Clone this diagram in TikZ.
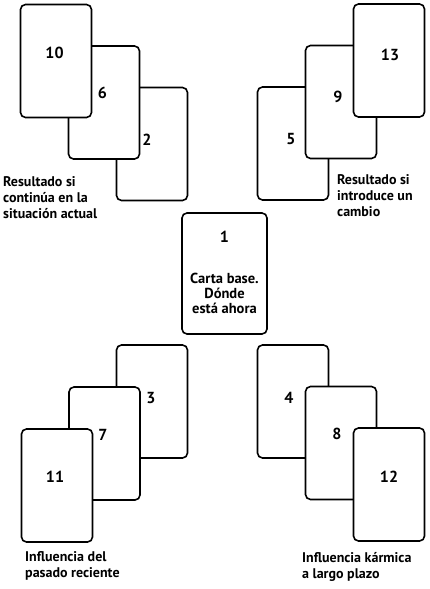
\documentclass[tikz,border=0pt]{standalone}
\usepackage{fontspec}
\setmainfont{PT Sans}
\usetikzlibrary{positioning}

\tikzset{
  card/.style={draw, line width=1.6pt, rounded corners=5pt, fill=white,
    minimum width=71pt, minimum height=113pt, inner sep=0pt},
  num/.style={font=\fontsize{16}{16}\selectfont\bfseries, inner sep=0pt},
  caption/.style={font=\fontsize{14}{16}\selectfont\bfseries, align=left,
    anchor=north west, inner sep=0pt},
}

\begin{document}
\begin{tikzpicture}[x=1pt, y=-1pt, on grid]
    \useasboundingbox (0,0) rectangle (429,589);

    % top left: if nothing changes
    \node[card] (c2) at (152,144) {};
    \node[card, above left=41.5pt and 48pt of c2] (c6) {};
    \node[card, above left=41.5pt and 48pt of c6] (c10) {};
    \node[num, above left=8pt and 1.5pt of c10] (n10) {10};
    \node[num, above left=10pt and 1.5pt of c6] (n6) {6};
    \node[num, above left=4pt and 5pt of c2] (n2) {2};
    \node[caption] (t1) at (3,176) {Resultado si\\continúa en la\\situación actual};

    % top right: if a change is made
    \node[card] (c5) at (293,143.5) {};
    \node[card, above right=41.5pt and 48pt of c5] (c9) {};
    \node[card, above right=41.5pt and 48pt of c9] (c13) {};
    \node[num, above right=5.5pt and 1pt of c13] (n13) {13};
    \node[num, above left=5pt and 3pt of c9] (n9) {9};
    \node[num, above left=4.5pt and 2pt of c5] (n5) {5};
    \node[caption] (t2) at (337,174) {Resultado si\\introduce un\\cambio};

    % centre
    \node[card, minimum width=85pt, minimum height=121pt] (c1) at (224.5,273.5) {};
    \node[num, above=36.5pt of c1] (n1) {1};
    \node[font=\fontsize{14.5}{15}\selectfont\bfseries, align=center, inner sep=0pt,
      below=19.5pt of c1] (t0) {Carta base.\\Dónde\\está ahora};

    % bottom left: recent past
    \node[card] (c3) at (152,401.5) {};
    \node[card, below left=42pt and 47.5pt of c3] (c7) {};
    \node[card, below left=42pt and 47.5pt of c7] (c11) {};
    \node[num, above left=3.5pt and 1pt of c3] (n3) {3};
    \node[num, above left=8.5pt and 1.5pt of c7] (n7) {7};
    \node[num, above left=8.5pt and 2pt of c11] (n11) {11};
    \node[caption] (t3) at (25,551) {Influencia del\\pasado reciente};

    % bottom right: long term
    \node[card] (c4) at (293,401.5) {};
    \node[card, below right=41.5pt and 48pt of c4] (c8) {};
    \node[card, below right=41.5pt and 48pt of c8] (c12) {};
    \node[num, above left=3.5pt and 4pt of c4] (n4) {4};
    \node[num, above left=9.5pt and 4pt of c8] (n8) {8};
    \node[num, above=7.5pt of c12] (n12) {12};
    \node[caption] (t4) at (302,552) {Influencia kármica\\a largo plazo};
\end{tikzpicture}
\end{document}
